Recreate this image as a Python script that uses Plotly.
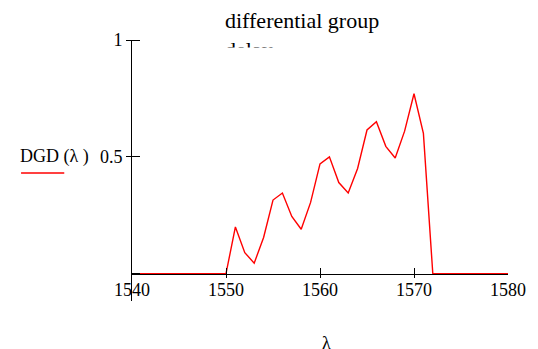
import plotly.graph_objects as go

# Wavelength grid (nm) and differential group delay values
wavelength = list(range(1540, 1581))
dgd_values = (
    [0.0] * 11  # 1540 .. 1550
    + [0.20, 0.09, 0.045, 0.155, 0.315, 0.345, 0.245, 0.19, 0.305, 0.47,
       0.50, 0.39, 0.345, 0.45, 0.615, 0.65, 0.545, 0.495, 0.61, 0.77, 0.60]
    + [0.0] * 9  # 1572 .. 1580
)

x_ticks = [1540, 1550, 1560, 1570, 1580]
y_ticks = [0, 0.5, 1]
y_tick_text = ["", "0.5", "1"]

X_RANGE = [1540, 1580]
Y_RANGE = [-0.117, 1.0]

SERIF = "Liberation Serif"
FONT_SIZE = 18


def serif_font(size):
    return dict(family=SERIF, size=size, color="black")


fig = go.Figure()
fig.add_trace(go.Scatter(
    x=wavelength, y=dgd_values, mode="lines",
    line=dict(color="#ff0000", width=1.4),
    showlegend=False, hoverinfo="skip", cliponaxis=False,
))

# x axis sits on y = 0 inside the taller y range
x_axis_pos = (0 - Y_RANGE[0]) / (Y_RANGE[1] - Y_RANGE[0])

fig.update_layout(
    width=538, height=349,
    margin=dict(l=132, r=23, t=40, b=48),
    paper_bgcolor="white", plot_bgcolor="white",
    xaxis=dict(
        range=X_RANGE, anchor="free", position=x_axis_pos,
        showgrid=False, zeroline=False,
        showline=True, linecolor="black", linewidth=1,
        tickmode="array", tickvals=x_ticks,
        ticks="inside", ticklen=6, tickcolor="black", tickwidth=1,
        minor=dict(tickmode="array", tickvals=x_ticks, ticks="outside",
                   ticklen=3, tickcolor="black", tickwidth=1, showgrid=False),
        tickfont=serif_font(FONT_SIZE),
        ticklabelstandoff=0,
    ),
    yaxis=dict(
        range=Y_RANGE,
        showgrid=False, zeroline=False,
        showline=True, linecolor="black", linewidth=1,
        tickmode="array", tickvals=y_ticks, ticktext=y_tick_text,
        ticks="outside", ticklen=5, tickcolor="black", tickwidth=1,
        minor=dict(tickmode="array", tickvals=y_ticks, ticks="inside",
                   ticklen=8, tickcolor="black", tickwidth=1, showgrid=False),
        tickfont=serif_font(FONT_SIZE),
        ticklabelstandoff=0,
    ),
)

# Title, second line cut off by a white box drawn over it
fig.add_annotation(
    text="differential group<br>delay", xref="paper", yref="paper",
    x=(225 - 132) / 383, y=(301 - 6) / 261, xanchor="left", yanchor="top",
    align="left", showarrow=False, font=serif_font(22),
)
fig.add_annotation(
    text=" ", xref="paper", yref="paper",
    x=(215 - 132) / 383, y=(301 - 47) / 261, xanchor="left", yanchor="top",
    width=120, height=24, bgcolor="white", borderpad=0, showarrow=False,
)

# Series label with its line sample
fig.add_annotation(
    text="DGD (λ )", xref="paper", yref="paper",
    x=(16 - 132) / 383, y=(301 - 156) / 261, xanchor="left", yanchor="middle",
    showarrow=False, font=serif_font(18),
)
fig.add_shape(
    type="line", xref="paper", yref="paper",
    x0=(19 - 132) / 383, x1=(63 - 132) / 383,
    y0=(301 - 173) / 261, y1=(301 - 173) / 261,
    line=dict(color="#ff0000", width=1.4),
)

# x axis title, partly below the page edge
fig.add_annotation(
    text="λ", xref="paper", yref="paper",
    x=(330 - 132) / 383, y=(301 - 331) / 261, xanchor="center", yanchor="top",
    showarrow=False, font=serif_font(18),
)

fig.write_html("out.html")
